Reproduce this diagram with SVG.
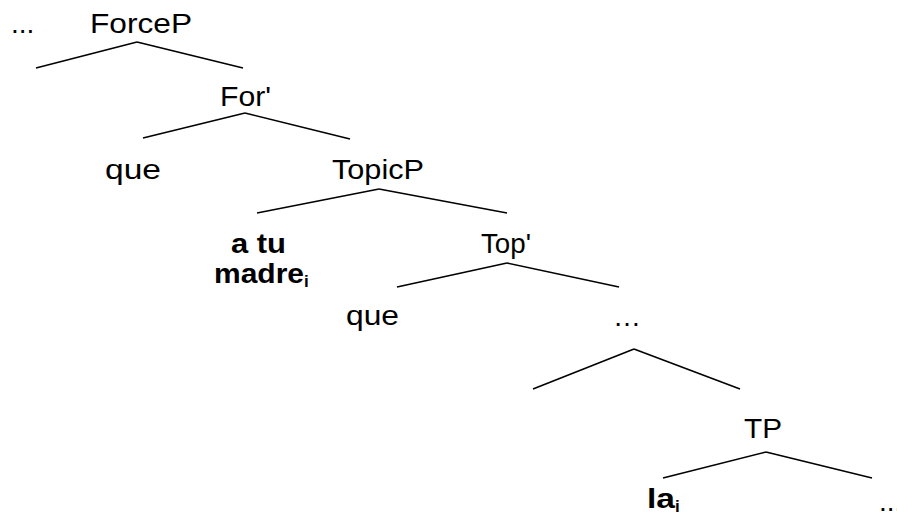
<svg xmlns="http://www.w3.org/2000/svg" width="897" height="513" viewBox="0 0 897 513">
<style>
text{font-family:"Liberation Sans",Arial,sans-serif;font-size:28px;fill:#000}
.b{font-weight:bold}
.sub{font-size:17px;font-weight:bold}
line{stroke:#000;stroke-width:1.6;stroke-linecap:butt}
</style>
<rect width="897" height="513" fill="#fff"/>
<g id="edges">
<line x1="137" y1="42" x2="36" y2="68"/>
<line x1="137" y1="42" x2="243" y2="68"/>
<line x1="245" y1="113" x2="143" y2="138"/>
<line x1="245" y1="113" x2="350" y2="139"/>
<line x1="379" y1="189" x2="257" y2="213"/>
<line x1="379" y1="189" x2="507" y2="213"/>
<line x1="507" y1="263" x2="397" y2="287"/>
<line x1="507" y1="263" x2="619" y2="287"/>
<line x1="634" y1="349" x2="533" y2="389"/>
<line x1="634" y1="349" x2="740" y2="389"/>
<line x1="766" y1="452" x2="663" y2="478"/>
<line x1="766" y1="452" x2="872" y2="478"/>
</g>
<g id="dots1"><text x="11" y="33">...</text></g>
<g id="ForceP"><text x="90" y="33" textLength="102" lengthAdjust="spacingAndGlyphs">ForceP</text></g>
<g id="For"><text x="220" y="106" textLength="51" lengthAdjust="spacingAndGlyphs">For'</text></g>
<g id="que1"><text x="105" y="179" textLength="56" lengthAdjust="spacingAndGlyphs">que</text></g>
<g id="TopicP"><text x="332" y="179" textLength="92" lengthAdjust="spacingAndGlyphs">TopicP</text></g>
<g id="atumadre">
<text class="b" x="231" y="253" textLength="55" lengthAdjust="spacingAndGlyphs">a tu</text>
<text class="b" x="214" y="283"><tspan textLength="90" lengthAdjust="spacingAndGlyphs">madre</tspan><tspan class="sub" dy="4">i</tspan></text>
</g>
<g id="Top"><text x="481" y="253" textLength="50" lengthAdjust="spacingAndGlyphs">Top'</text></g>
<g id="que2"><text x="346" y="325" textLength="53" lengthAdjust="spacingAndGlyphs">que</text></g>
<g id="dots2"><text x="613" y="326">…</text></g>
<g id="TP"><text x="744" y="438" textLength="38" lengthAdjust="spacingAndGlyphs">TP</text></g>
<g id="la"><text class="b" x="647" y="508"><tspan textLength="28" lengthAdjust="spacingAndGlyphs">la</tspan><tspan class="sub" dy="4">i</tspan></text></g>
<g id="dots3"><text x="879" y="511">...</text></g>
</svg>
